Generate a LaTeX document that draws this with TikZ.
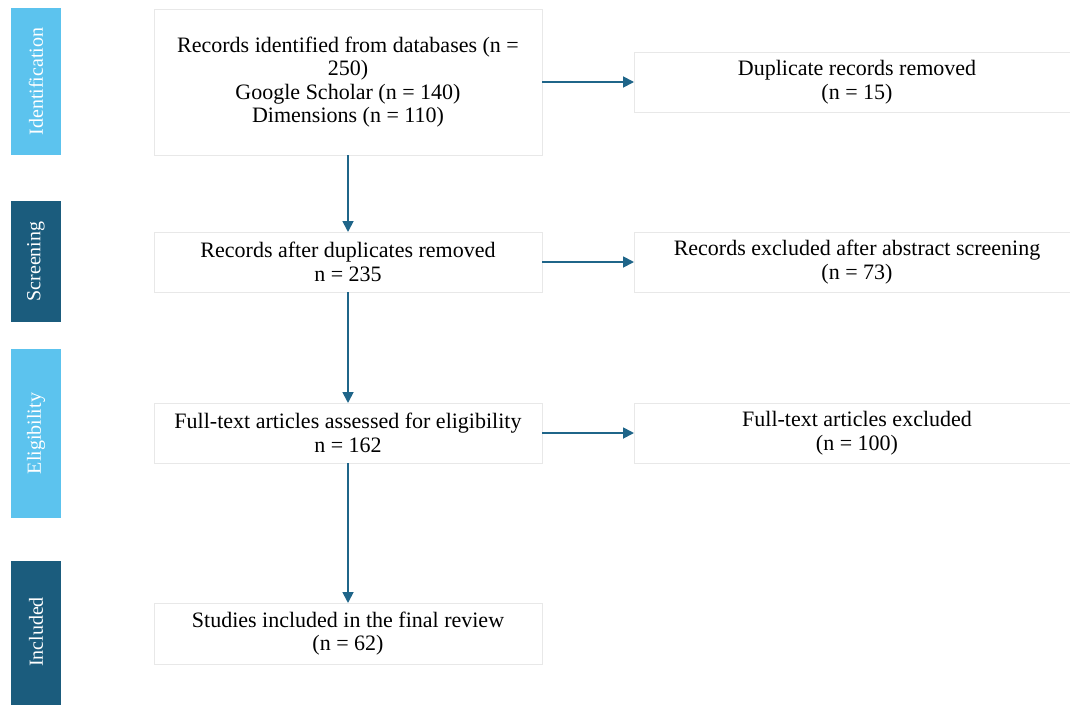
\documentclass[tikz,border=0pt]{standalone}
\usepackage{fontspec}
\setmainfont{Liberation Serif}
\usetikzlibrary{arrows.meta}
\definecolor{lightband}{HTML}{5CC3EE}
\definecolor{darkband}{HTML}{1B5C7D}
\definecolor{arrowcol}{HTML}{1F6589}
\definecolor{boxline}{HTML}{E8E8E8}
\tikzset{
  bandlight/.style={fill=lightband, draw=none},
  banddark/.style={fill=darkband, draw=none},
  bandtext/.style={text=white, rotate=90, font=\fontsize{20}{22}\selectfont},
  flowbox/.style={draw=boxline, line width=0.8pt, fill=white},
  boxtext/.style={align=center, font=\fontsize{22}{23.5}\selectfont, text=black},
  flowarrow/.style={draw=arrowcol, line width=1.8pt, -{Triangle[length=11pt,width=11pt]}}
}
\begin{document}
\begin{tikzpicture}[x=1pt,y=-1pt]
\useasboundingbox (0,0) rectangle (1070,704);
% side bands
\path[bandlight] (11,8) rectangle (61,155);
\node[bandtext] (bid) at (36,81.5) {Identification};
\path[banddark] (11,201) rectangle (61,322);
\node[bandtext] (bsc) at (36,261.5) {Screening};
\path[bandlight] (11,349) rectangle (61,518);
\node[bandtext] (bel) at (36,433.5) {Eligibility};
\path[banddark] (11,561) rectangle (61,710);
\node[bandtext] (bin) at (36,632) {Included};
% main boxes
\path[flowbox] (154,9) rectangle (542,155);
\coordinate (m1t) at (348,9);
\coordinate (m1b) at (348,155);
\coordinate (m1r) at (542,82);
\node[boxtext] (t1) at (348,82) {Records identified from databases (n =\\250)\\Google Scholar (n = 140)\\Dimensions (n = 110)};
\path[flowbox] (154,232) rectangle (542,292);
\coordinate (m2t) at (348,232);
\coordinate (m2b) at (348,292);
\coordinate (m2r) at (542,262);
\node[boxtext] (t2) at (348,262) {Records after duplicates removed\\n = 235};
\path[flowbox] (154,403) rectangle (542,463);
\coordinate (m3t) at (348,403);
\coordinate (m3b) at (348,463);
\coordinate (m3r) at (542,433);
\node[boxtext] (t3) at (348,433) {Full-text articles assessed for eligibility\\n = 162};
\path[flowbox] (154,603) rectangle (542,664);
\coordinate (m4t) at (348,603);
\node[boxtext] (t4) at (348,633.5) {Studies included in the final review\\(n = 62)};
% right boxes
\path[flowbox] (634,52) rectangle (1080,112);
\coordinate (r1l) at (634,82);
\node[boxtext] (s1) at (857,82) {Duplicate records removed\\(n = 15)};
\path[flowbox] (634,232) rectangle (1080,292);
\coordinate (r2l) at (634,262);
\node[boxtext] (s2) at (857,262) {Records excluded after abstract screening\\(n = 73)};
\path[flowbox] (634,403) rectangle (1080,463);
\coordinate (r3l) at (634,433);
\node[boxtext] (s3) at (857,433) {Full-text articles excluded\\(n = 100)};
% arrows
\draw[flowarrow] (m1b) -- (m2t);
\draw[flowarrow] (m2b) -- (m3t);
\draw[flowarrow] (m3b) -- (m4t);
\draw[flowarrow] (m1r) -- (r1l);
\draw[flowarrow] (m2r) -- (r2l);
\draw[flowarrow] (m3r) -- (r3l);
\end{tikzpicture}
\end{document}
